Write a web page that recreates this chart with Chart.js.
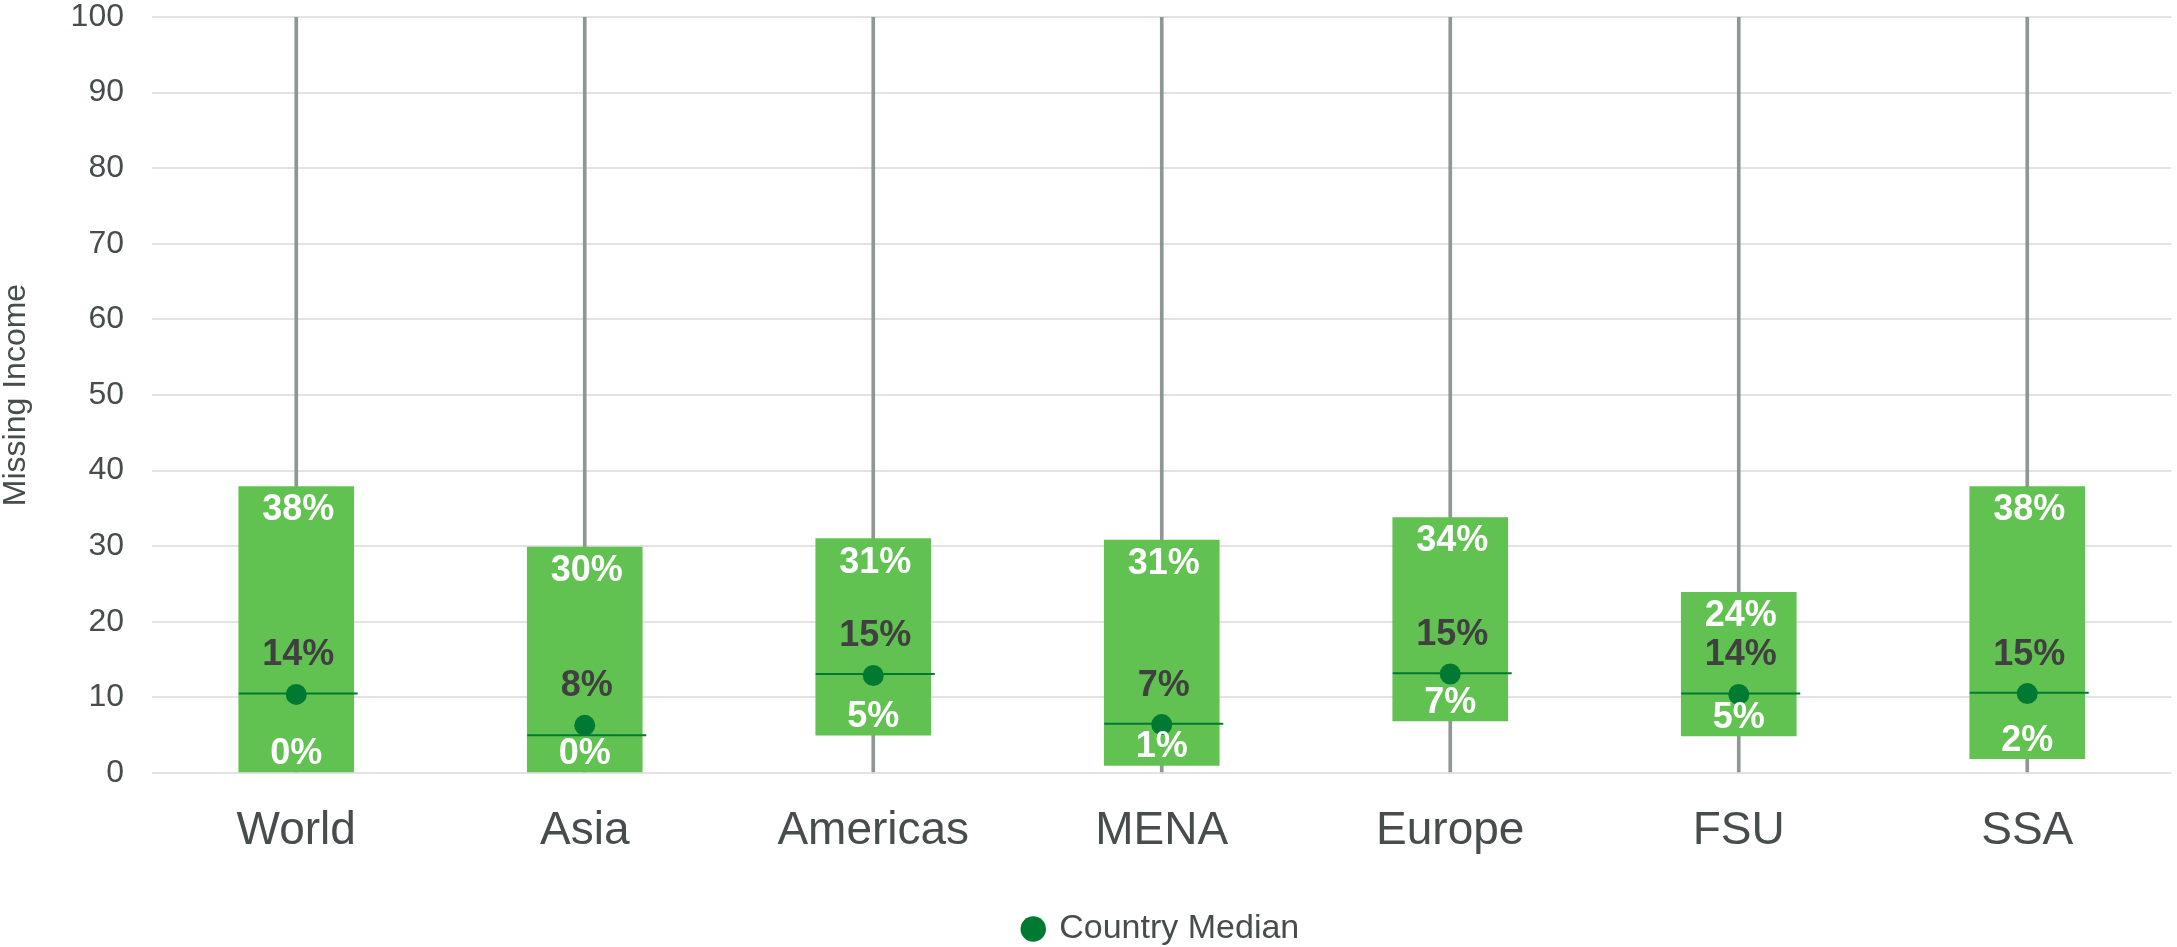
<!DOCTYPE html>
<html>
<head>
<meta charset="utf-8">
<script src="https://cdn.jsdelivr.net/npm/chart.js@4"></script>
<style>
    html, body { margin: 0; padding: 0; background: #ffffff; overflow: hidden; }
    #wrap { width: 2182px; height: 947px; }
</style>
</head>
<body>
<div id="wrap"><canvas id="boxchart"></canvas></div>
<script>
var categories = ['World', 'Asia', 'Americas', 'MENA', 'Europe', 'FSU', 'SSA'];
var whiskerLow = [0, 0, 0, 0, 0, 0, 0];
var whiskerHigh = [100, 100, 100, 100, 100, 100, 100];
var boxLow = [0, 0, 5, 1, 6.9, 4.9, 1.9];
var boxHigh = [37.9, 29.9, 31, 30.8, 33.8, 23.9, 37.9];
var medianLine = [10.5, 5.0, 13.1, 6.5, 13.2, 10.5, 10.6];
var countryMedian = [10.4, 6.3, 12.9, 6.4, 13.1, 10.4, 10.5];
var topLabels = ['38%', '30%', '31%', '31%', '34%', '24%', '38%'];
var midLabels = ['14%', '8%', '15%', '7%', '15%', '14%', '15%'];
var lowLabels = ['0%', '0%', '5%', '1%', '7%', '5%', '2%'];
var yTicks = [0, 10, 20, 30, 40, 50, 60, 70, 80, 90, 100];

var textColor = '#474c4c';
var fontFamily = '"Liberation Sans", Arial, sans-serif';

// median bar across each box, drawn right after the boxes (under the dots)
var medianBars = {
    id: 'medianBars',
    afterDatasetDraw: function(chart, args) {
        if (args.index !== 1) return;
        var ctx = chart.ctx;
        var boxes = chart.getDatasetMeta(1).data;
        var y = chart.scales.y;
        ctx.save();
        ctx.strokeStyle = '#007a33';
        ctx.lineWidth = 2;
        boxes.forEach(function(bar, i) {
            var py = y.getPixelForValue(medianLine[i]);
            ctx.beginPath();
            ctx.moveTo(bar.x - bar.width / 2, py);
            ctx.lineTo(bar.x + bar.width / 2 + 4, py);
            ctx.stroke();
        });
        ctx.restore();
    }
};

// labels inside the boxes, clipped to the box like the original
var boxLabels = {
    id: 'boxLabels',
    afterDatasetsDraw: function(chart) {
        var ctx = chart.ctx;
        var boxes = chart.getDatasetMeta(1).data;
        var dots = chart.getDatasetMeta(3).data;
        ctx.save();
        ctx.font = 'bold 36px ' + fontFamily;
        ctx.textAlign = 'center';
        ctx.textBaseline = 'middle';
        boxes.forEach(function(bar, i) {
            var top = Math.min(bar.y, bar.base);
            var bottom = Math.max(bar.y, bar.base);
            ctx.save();
            ctx.beginPath();
            ctx.rect(bar.x - bar.width / 2, top, bar.width, bottom - top);
            ctx.clip();
            ctx.fillStyle = '#ffffff';
            ctx.fillText(topLabels[i], bar.x + 2, top + 24);
            ctx.fillText(lowLabels[i], bar.x, bottom - 18);
            ctx.fillStyle = '#404040';
            ctx.fillText(midLabels[i], bar.x + 2, dots[i].y - 39);
            ctx.restore();
        });
        ctx.restore();
    }
};

var ctx = document.getElementById('boxchart');
var boxChart = new Chart(ctx, {
    type: 'bar',
    data: {
        labels: categories,
        datasets: [{
            label: 'Range',
            data: whiskerLow.map(function(v, i) { return [v, whiskerHigh[i]]; }),
            backgroundColor: '#8f9794',
            barThickness: 3,
            grouped: false,
            order: 4
        }, {
            label: 'Box',
            data: boxLow.map(function(v, i) { return [v, boxHigh[i]]; }),
            backgroundColor: '#62c251',
            barThickness: 115,
            grouped: false,
            order: 3
        }, {
            type: 'line',
            label: 'Median',
            data: medianLine,
            showLine: false,
            pointRadius: 0,
            order: 2
        }, {
            type: 'line',
            label: 'Country Median',
            data: countryMedian,
            showLine: false,
            pointStyle: 'circle',
            pointRadius: 10.5,
            pointBorderWidth: 0,
            borderColor: '#007a33',
            backgroundColor: '#007a33',
            order: 1
        }]
    },
    options: {
        responsive: true,
        maintainAspectRatio: false,
        animation: false,
        layout: {
            padding: { top: 0, right: 0, bottom: -9, left: 0 }
        },
        plugins: {
            tooltip: { enabled: false },
            legend: {
                position: 'bottom',
                fullSize: false,
                labels: {
                    filter: function(item) { return item.text === 'Country Median'; },
                    usePointStyle: true,
                    boxWidth: 18,
                    boxHeight: 18,
                    padding: 53,
                    color: textColor,
                    font: { family: fontFamily, size: 34 }
                }
            }
        },
        scales: {
            x: {
                grid: { display: false, drawTicks: false },
                border: { display: false },
                ticks: {
                    color: textColor,
                    padding: 31,
                    font: { family: fontFamily, size: 46 }
                },
                afterFit: function(scale) { scale.height = 86; }
            },
            y: {
                min: 0,
                max: 100,
                afterBuildTicks: function(scale) {
                    scale.ticks = yTicks.map(function(v) { return { value: v }; });
                },
                grid: { color: '#e3e3e3', lineWidth: 2, drawTicks: false },
                border: { display: false },
                ticks: {
                    color: textColor,
                    padding: 28,
                    font: { family: fontFamily, size: 32 }
                },
                title: {
                    display: true,
                    text: 'Missing Income',
                    color: textColor,
                    padding: { top: 0, bottom: 44 },
                    font: { family: fontFamily, size: 32, lineHeight: 1 }
                },
                afterFit: function(scale) {
                    scale.width = 152;
                    scale.paddingTop = 17;
                    scale.paddingBottom = 0;
                }
            }
        }
    },
    plugins: [medianBars, boxLabels]
});
</script>
</body>
</html>
